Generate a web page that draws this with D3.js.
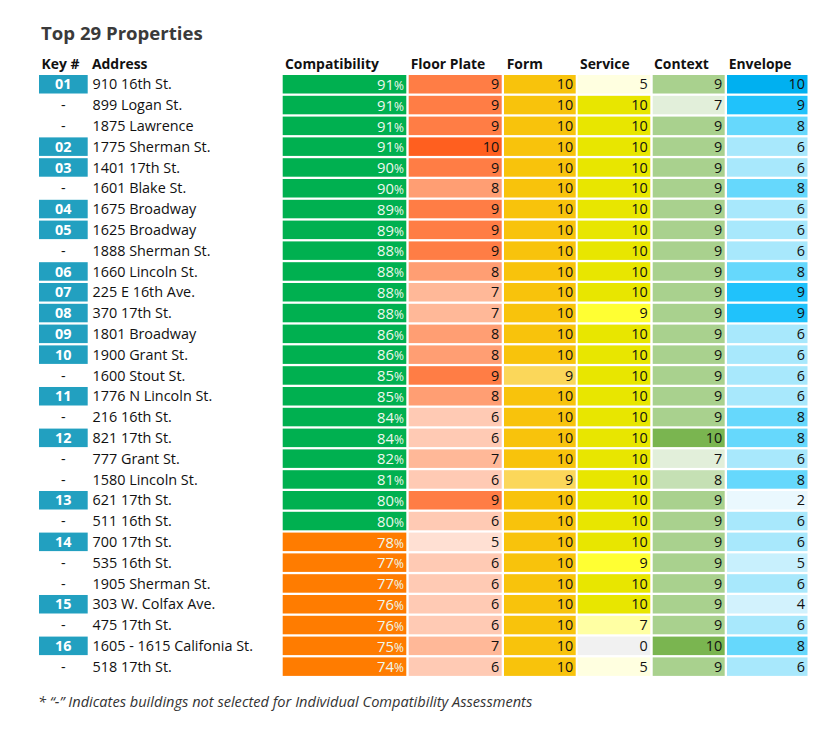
<!DOCTYPE html>
<html>
<head>
<meta charset="utf-8">
<script src="https://cdn.jsdelivr.net/npm/d3@7"></script>
<style>
  html, body { margin: 0; padding: 0; background: #fff; }
  svg { display: block; }
</style>
</head>
<body>
<svg id="chart" width="837" height="735"></svg>
<script>
// ---------- data ----------
const keys = ["01","-","-","02","03","-","04","05","-","06","07","08","09","10","-","11","-","12","-","-","13","-","14","-","-","15","-","16","-"];
const addresses = ["910 16th St.","899 Logan St.","1875 Lawrence","1775 Sherman St.","1401 17th St.","1601 Blake St.","1675 Broadway","1625 Broadway","1888 Sherman St.","1660 Lincoln St.","225 E 16th Ave.","370 17th St.","1801 Broadway","1900 Grant St.","1600 Stout St.","1776 N Lincoln St.","216 16th St.","821 17th St.","777 Grant St.","1580 Lincoln St.","621 17th St.","511 16th St.","700 17th St.","535 16th St.","1905 Sherman St.","303 W. Colfax Ave.","475 17th St.","1605 - 1615 Califonia St.","518 17th St."];
const compatibility = [91,91,91,91,90,90,89,89,88,88,88,88,86,86,85,85,84,84,82,81,80,80,78,77,77,76,76,75,74];
const floorPlate = [9,9,9,10,9,8,9,9,9,8,7,7,8,8,9,8,6,6,7,6,9,6,5,6,6,6,6,7,6];
const form =       [10,10,10,10,10,10,10,10,10,10,10,10,10,10,9,10,10,10,10,9,10,10,10,10,10,10,10,10,10];
const service =    [5,10,10,10,10,10,10,10,10,10,10,9,10,10,10,10,10,10,10,10,10,10,10,9,10,10,7,0,5];
const context =    [9,7,9,9,9,9,9,9,9,9,9,9,9,9,9,9,9,10,7,8,9,9,9,9,9,9,9,10,9];
const envelope =   [10,9,8,6,6,8,6,6,6,8,9,9,6,6,6,6,8,8,6,8,2,6,6,5,6,4,6,8,6];
const headers = ["Key #","Address","Compatibility","Floor Plate","Form","Service","Context","Envelope"];
const title = "Top 29 Properties";
const footnote = "* \u201c-\u201d Indicates buildings not selected for Individual Compatibility Assessments";

// ---------- styles ----------
const FONT = "'Open Sans', 'Noto Sans', sans-serif";
const TXT = 14.4;
const scoreCols = [
  {name:"Floor Plate", values: floorPlate, x0: 408.7, x1: 501.7,
   color: d3.scaleOrdinal([10,9,8,7,6,5],["#ff5f1f","#ff7d45","#ff9e73","#ffb898","#ffcab4","#ffe0d3"])},
  {name:"Form", values: form, x0: 504, x1: 575.7,
   color: d3.scaleOrdinal([10,9],["#f8c30c","#fbd75a"])},
  {name:"Service", values: service, x0: 577.7, x1: 650.3,
   color: d3.scaleOrdinal([10,9,7,5,0],["#e8e600","#ffff33","#ffffa3","#ffffe0","#f1f1f1"])},
  {name:"Context", values: context, x0: 652.7, x1: 724.7,
   color: d3.scaleOrdinal([10,9,8,7],["#7ab550","#a9d18e","#c5e0b4","#e2efda"])},
  {name:"Envelope", values: envelope, x0: 727, x1: 807.5,
   color: d3.scaleOrdinal([10,9,8,6,5,4,2],["#00b0f0","#20c2fb","#66d8fc","#a8e8fc","#c8f0fd","#d2f2fd","#eaf8fe"])}
];
const compatX0 = 282.7, compatX1 = 406.3;
const keyX0 = 39, keyX1 = 87.7;
const addrX = 92.5;

const svg = d3.select("#chart");
const n = addresses.length;
const y = d3.scaleBand().domain(d3.range(n)).range([75, 75 + 28*20.8 + 18.5]).paddingInner(0.11).paddingOuter(0);
const bh = y.bandwidth();

// title
svg.append("text").attr("x", 41).attr("y", 40)
  .attr("font-family", FONT).attr("font-weight", 700).attr("font-size", 18.6)
  .attr("fill", "#3a3a3a").text(title);

// headers
const headerX = [41.5, 92, 285, 410.7, 506.7, 580, 654, 728.7];
svg.append("g").selectAll("text").data(headers).join("text")
  .attr("x", (d,i) => headerX[i]).attr("y", 68.5)
  .attr("font-family", FONT).attr("font-weight", 700).attr("font-size", 13.9)
  .attr("fill", "#111").text(d => d);

// rows
const rows = svg.append("g").selectAll("g").data(d3.range(n)).join("g")
  .attr("transform", i => `translate(0,${y(i)})`);

// key cells
rows.filter(i => keys[i] !== "-").append("rect")
  .attr("x", keyX0).attr("width", keyX1 - keyX0).attr("height", bh).attr("fill", "#22a0c0");
rows.append("text")
  .attr("x", (keyX0 + keyX1)/2).attr("y", bh/2).attr("dy", "0.36em")
  .attr("text-anchor", "middle").attr("font-family", FONT)
  .attr("font-weight", i => keys[i] === "-" ? 400 : 700)
  .attr("font-size", TXT)
  .attr("fill", i => keys[i] === "-" ? "#111" : "#fff")
  .text(i => keys[i]);

// address
rows.append("text")
  .attr("x", addrX).attr("y", bh/2).attr("dy", "0.36em")
  .attr("font-family", FONT).attr("font-size", TXT).attr("fill", "#111")
  .text(i => addresses[i]);

// compatibility
rows.append("rect").attr("x", compatX0).attr("width", compatX1 - compatX0).attr("height", bh)
  .attr("fill", i => compatibility[i] >= 80 ? "#00b050" : "#ff7c00");
const ct = rows.append("text")
  .attr("x", compatX1 - 2.5).attr("y", bh/2).attr("dy", "0.36em")
  .attr("text-anchor", "end").attr("font-family", FONT).attr("fill", "#eef8ee");
ct.append("tspan").attr("font-size", TXT + 0.4).text(i => compatibility[i]);
ct.append("tspan").attr("font-size", 12).text("%");

// score columns
scoreCols.forEach(col => {
  rows.append("rect").attr("x", col.x0).attr("width", col.x1 - col.x0).attr("height", bh)
    .attr("fill", i => col.color(col.values[i]));
  rows.append("text")
    .attr("x", col.x1 - 2.5).attr("y", bh/2).attr("dy", "0.36em")
    .attr("text-anchor", "end").attr("font-family", FONT).attr("font-size", TXT)
    .attr("fill", "#111").text(i => col.values[i]);
});

// footnote
svg.append("text").attr("x", 38).attr("y", 707)
  .attr("font-family", FONT).attr("font-style", "italic").attr("font-size", 14.6)
  .attr("fill", "#333").text(footnote);
</script>
</body>
</html>
